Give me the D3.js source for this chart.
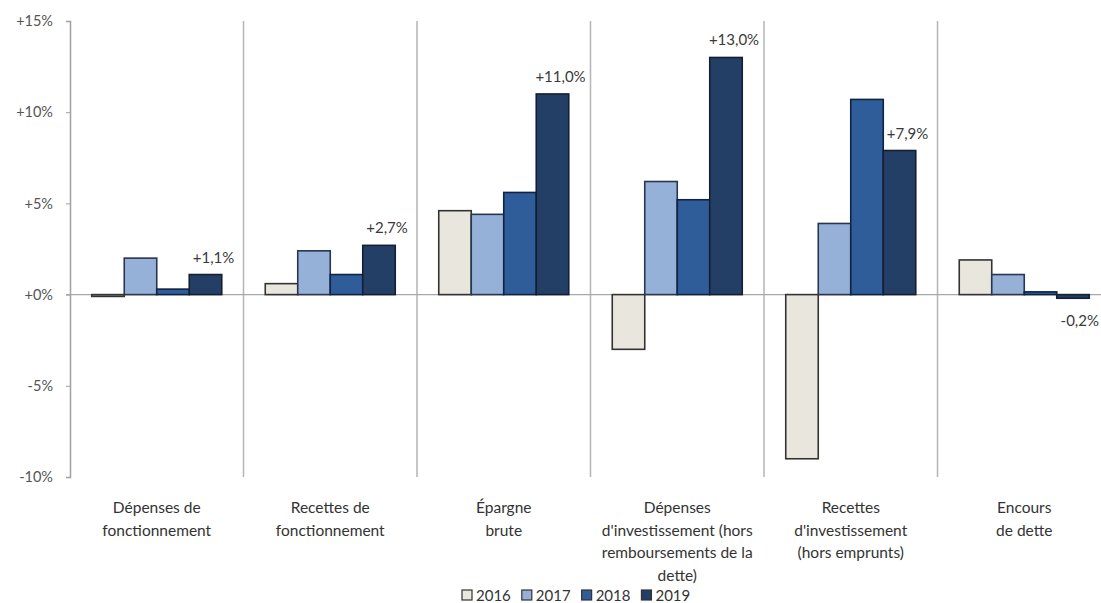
<!DOCTYPE html>
<html>
<head>
<meta charset="utf-8">
<script src="https://cdn.jsdelivr.net/npm/d3@7"></script>
<style>
  html, body { margin: 0; padding: 0; background: #fff; overflow: hidden; }
  svg { display: block; font-family: Lato, "Open Sans", sans-serif; }
</style>
</head>
<body>
<svg id="chart" width="1101" height="603"></svg>
<script>
// Budget indicators: year-on-year change (%), 2016-2019
const categories = [
  ["Dépenses de", "fonctionnement"],
  ["Recettes de", "fonctionnement"],
  ["Épargne", "brute"],
  ["Dépenses", "d'investissement (hors", "remboursements de la", "dette)"],
  ["Recettes", "d'investissement", "(hors emprunts)"],
  ["Encours", "de dette"]
];
const years = ["2016", "2017", "2018", "2019"];
const values2016 = [-0.1, 0.6, 4.6, -3.0, -9.0, 1.9];
const values2017 = [2.0, 2.4, 4.4, 6.2, 3.9, 1.1];
const values2018 = [0.3, 1.1, 5.6, 5.2, 10.7, 0.15];
const values2019 = [1.1, 2.7, 11.0, 13.0, 7.9, -0.2];
const labels2019 = ["+1,1%", "+2,7%", "+11,0%", "+13,0%", "+7,9%", "-0,2%"];
const yTicks = [-10, -5, 0, 5, 10, 15];
const tickLabels = ["-10%", "-5%", "+0%", "+5%", "+10%", "+15%"];

const series = [values2016, values2017, values2018, values2019];
const fills = ["#e9e7dd", "#95b1d7", "#2f5d99", "#233f66"];
const strokes = ["#333", "#2a3550", "#0f2344", "#141f33"];

const W = 1101;
const svg = d3.select("#chart");
const plotLeft = 70, plotTop = 21, plotBottom = 477, groupW = 173.5;
const keys = categories.map((c, i) => "c" + i);

const x0 = d3.scaleBand().domain(keys).range([plotLeft, plotLeft + groupW * keys.length]).padding(0);
const x1 = d3.scaleBand().domain(years).range([21.75, groupW - 21.75]).padding(0);
const y = d3.scaleLinear().domain([-10, 15]).range([plotBottom, plotTop]);

// Category separators
svg.append("g").selectAll("line")
  .data(keys)
  .join("line")
  .attr("x1", d => x0(d) + groupW)
  .attr("x2", d => x0(d) + groupW)
  .attr("y1", plotTop).attr("y2", plotBottom)
  .attr("stroke", "#b5b5b5").attr("stroke-width", 1.5);

// Zero line
svg.append("line")
  .attr("x1", plotLeft - 4).attr("x2", W)
  .attr("y1", y(0)).attr("y2", y(0))
  .attr("stroke", "#a8a8a8").attr("stroke-width", 1.3);

// Y axis
const yAxis = d3.axisLeft(y).tickValues(yTicks)
  .tickFormat(d => tickLabels[yTicks.indexOf(d)])
  .tickSize(4).tickSizeOuter(4).tickPadding(13);
const ga = svg.append("g").attr("transform", `translate(${plotLeft},0)`).call(yAxis);
ga.select(".domain").attr("stroke", "#a0a0a0").attr("stroke-width", 1.5);
ga.selectAll(".tick line").attr("stroke", "#a0a0a0");
ga.selectAll(".tick text").attr("fill", "#555").attr("font-size", 14.5)
  .attr("font-family", "Lato, sans-serif");

// Bars
const groups = svg.append("g").selectAll("g")
  .data(keys)
  .join("g")
  .attr("transform", d => `translate(${x0(d)},0)`);

groups.selectAll("rect")
  .data((k, ci) => years.map((yr, si) => ({ yr, si, v: series[si][ci] })))
  .join("rect")
  .attr("x", d => x1(d.yr))
  .attr("width", x1.bandwidth())
  .attr("y", d => y(Math.max(0, d.v)))
  .attr("height", d => Math.max(1.5, Math.abs(y(d.v) - y(0))))
  .attr("fill", d => fills[d.si])
  .attr("stroke", d => strokes[d.si])
  .attr("stroke-width", 1.6);

// Value labels for 2019 (white backing box, kept inside the frame)
const lab = svg.append("g");
keys.forEach((k, ci) => {
  const v = values2019[ci];
  let cx = x0(k) + x1("2019") + x1.bandwidth() / 2 + 8;
  const ty = v >= 0 ? y(v) - 12 : y(v) + 28;
  const g = lab.append("g");
  const t = g.append("text")
    .attr("x", cx).attr("y", ty)
    .attr("text-anchor", "middle")
    .attr("font-size", 15).attr("fill", "#3a3a3a")
    .text(labels2019[ci]);
  let bb = t.node().getBBox();
  if (bb.x + bb.width > W - 2) {
    cx -= (bb.x + bb.width) - (W - 2);
    t.attr("x", cx);
    bb = t.node().getBBox();
  }
  g.insert("rect", "text")
    .attr("x", bb.x - 1).attr("y", bb.y + 1)
    .attr("width", bb.width + 2).attr("height", bb.height - 2)
    .attr("fill", "#fff");
});

// Category labels
keys.forEach((k, ci) => {
  const t = svg.append("text")
    .attr("x", x0(k) + groupW / 2)
    .attr("y", 513)
    .attr("text-anchor", "middle")
    .attr("font-size", 15.5).attr("fill", "#333");
  categories[ci].forEach((line, li) => {
    t.append("tspan").attr("x", x0(k) + groupW / 2)
      .attr("dy", li === 0 ? 0 : 22.7).text(line);
  });
});

// Legend
const legend = svg.append("g").attr("transform", "translate(462,595)");
let lx = 0;
years.forEach((yr, i) => {
  legend.append("rect")
    .attr("x", lx).attr("y", -5).attr("width", 10).attr("height", 10)
    .attr("fill", fills[i]).attr("stroke", "#333").attr("stroke-width", 1.2);
  const t = legend.append("text")
    .attr("x", lx + 14).attr("y", 5.5)
    .attr("font-size", 15).attr("fill", "#333").text(yr);
  lx += 14 + t.node().getComputedTextLength() + 11;
});
</script>
</body>
</html>
